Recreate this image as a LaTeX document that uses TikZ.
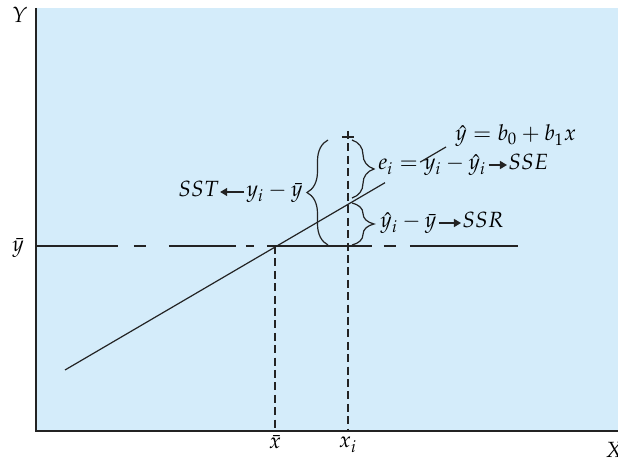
\documentclass[tikz,border=0pt]{standalone}
\usepackage{mathpazo}
\usetikzlibrary{arrows.meta,decorations.pathreplacing,calc}

\definecolor{panel}{RGB}{212,236,250}
\definecolor{ink}{RGB}{35,35,35}

\newcommand*{\xleft}{36}
\newcommand*{\xright}{618}
\newcommand*{\ytop}{8}
\newcommand*{\ybottom}{431}
\newcommand*{\ymean}{246}
\newcommand*{\xmean}{275}
\newcommand*{\xobs}{348}

\begin{document}
\begin{tikzpicture}
[
	x=0.5pt,
	y=-0.5pt,
	font=\fontsize{11}{13}\selectfont,
	lbl/.style={inner sep=0pt,text height=7.5pt,text depth=2.5pt,anchor=base west},
	arr/.style={ink,semithick,-{Triangle[length=3.5pt,width=4pt]},shorten <=1pt,shorten >=0.5pt},
	guide/.style={ink,semithick,dash pattern=on 4pt off 2.2pt},
	bracket/.style={ink,semithick,decorate,decoration={brace,amplitude=#1}}
]
	\useasboundingbox (0,0) rectangle (618,459);

	% panel
	\fill[panel] (\xleft,\ytop) rectangle (\xright,\ybottom);

	% axes
	\draw[ink,thick] (\xleft,\ytop) -- (\xleft,\ybottom) -- (\xright,\ybottom);
	\node[lbl] (ylab) at (12,23) {$Y$};
	\node[lbl] (xlab) at (605,458) {$X$};
	\node[lbl] (ymeanlab) at (12,252) {$\bar{y}$};

	% mean of y, broken line
	\foreach \a/\b in {36/118,134/146,169/236,246/254,267/372,384/396,410/518} {
		\draw[ink,semithick] (\a,\ymean) -- (\b,\ymean);
	}

	% guides down to the x axis
	\draw[guide] (\xobs,131) -- (\xobs,\ybottom);
	\draw[ink,semithick] (342,137) -- (354,137);
	\draw[guide] (\xmean,\ymean) -- (\xmean,\ybottom);
	\node[lbl,anchor=base] (xmeanlab) at (\xmean,449) {$\bar{x}$};
	\node[lbl,anchor=base] (xobslab) at (\xobs,448) {$x_i$};

	% fitted line
	\coordinate (r0) at (65,370);
	\coordinate (r1) at (446,147);
	\draw[ink,semithick] (r0) -- ($(r0)!0.84!(r1)$);
	\draw[ink,semithick] ($(r0)!0.932!(r1)$) -- (r1);
	\node[lbl] (fit) at (455,141) {$\hat{y} = b_0 + b_1 x$};

	% braces
	\draw[bracket=10.5pt] (328,245) -- (328,140);
	\draw[bracket=11pt] (352,140) -- (352,198);
	\draw[bracket=11pt] (352,203) -- (352,245);

	% sums of squares
	\node[lbl] (sst) at (178,197) {$SST$};
	\node[lbl,anchor=base east] (sstdiff) at (303,197) {$y_i - \bar{y}$};
	\draw[arr] (sstdiff) -- (sst);

	\node[lbl] (ei) at (378,170) {$e_i = y_i - \hat{y}_i$};
	\node[lbl] (sse) at (508,170) {$SSE$};
	\draw[arr] (ei) -- (sse);

	\node[lbl] (ssrdiff) at (380,228) {$\hat{y}_i - \bar{y}$};
	\node[lbl] (ssr) at (462,228) {$SSR$};
	\draw[arr] (ssrdiff) -- (ssr);

\end{tikzpicture}
\end{document}
